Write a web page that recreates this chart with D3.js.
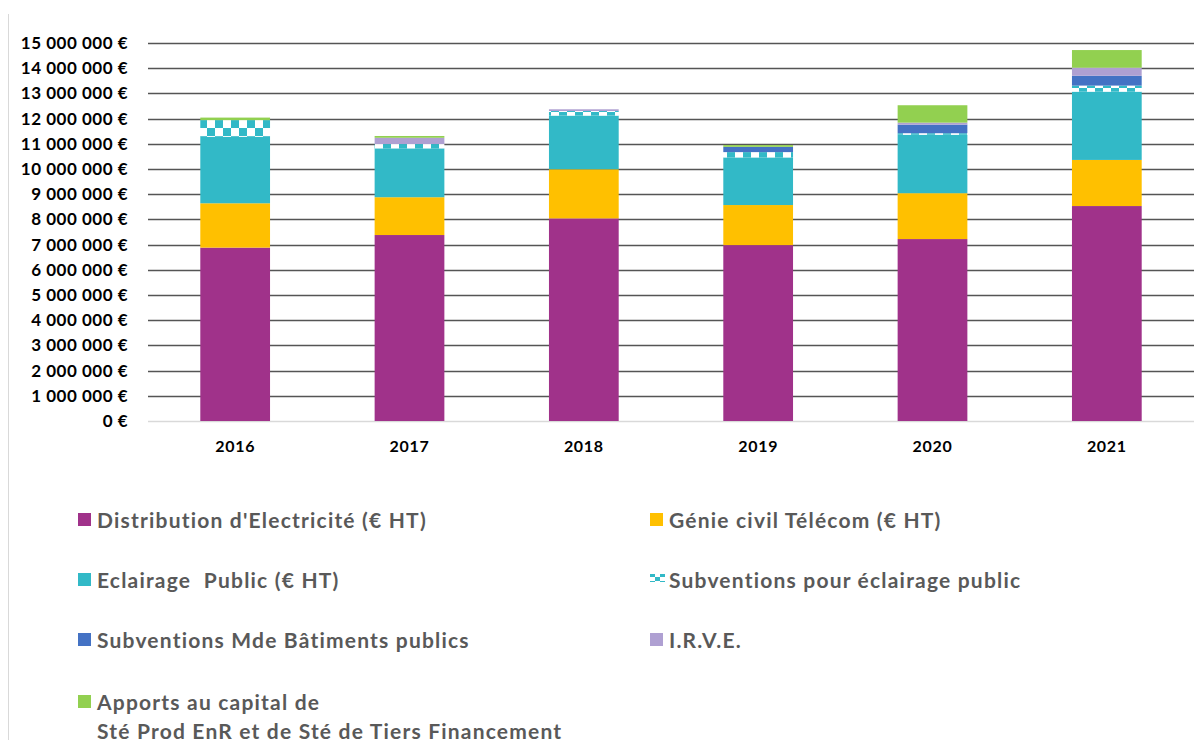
<!DOCTYPE html>
<html>
<head>
<meta charset="utf-8">
<script src="https://cdn.jsdelivr.net/npm/d3@7"></script>
<style>
  body { margin: 0; background: #fff; }
  svg text { font-family: "Lato", "Open Sans", sans-serif; font-weight: bold; }
</style>
</head>
<body>
<div id="chart"></div>
<script>
// data (euros)
var years = ["2016", "2017", "2018", "2019", "2020", "2021"];
var distribution  = [6880000, 7380000, 8040000, 6980000, 7220000, 8530000];
var genieCivil    = [1760000, 1500000, 1950000, 1590000, 1820000, 1830000];
var eclairage     = [2640000, 1940000, 2130000, 1890000, 2320000, 2710000];
var subvEclairage = [660000, 170000, 180000, 210000, 60000, 240000];
var subvMde       = [0, 0, 0, 210000, 340000, 390000];
var irve          = [0, 250000, 70000, 0, 80000, 320000];
var apports       = [100000, 70000, 0, 70000, 690000, 700000];
var tickValues = [0, 1000000, 2000000, 3000000, 4000000, 5000000, 6000000, 7000000,
  8000000, 9000000, 10000000, 11000000, 12000000, 13000000, 14000000, 15000000];

var seriesNames = ["Distribution d'Electricité (€ HT)", "Génie civil Télécom (€ HT)",
  "Eclairage  Public (€ HT)", "Subventions pour éclairage public",
  "Subventions Mde Bâtiments publics", "I.R.V.E.", "Apports au capital de|Sté Prod EnR et de Sté de Tiers Financement"];
var seriesValues = [distribution, genieCivil, eclairage, subvEclairage, subvMde, irve, apports];
var colors = ["#A0328A", "#FFC000", "#32B9C7", "url(#checker)", "#4472C4", "#AFA0D2", "#92D050"];
var legendColors = ["#A0328A", "#FFC000", "#32B9C7", "url(#checkerSmall)", "#4472C4", "#AFA0D2", "#92D050"];

var width = 1202, height = 740;
var svg = d3.select("#chart").append("svg")
  .attr("width", width).attr("height", height);

// patterns for the subventions series
var defs = svg.append("defs");
var pat = defs.append("pattern").attr("id", "checker")
  .attr("patternUnits", "userSpaceOnUse")
  .attr("width", 16).attr("height", 16)
  .attr("x", 199).attr("y", 0);
pat.append("rect").attr("width", 16).attr("height", 16).attr("fill", "#fff");
pat.append("rect").attr("x", 8).attr("y", 0).attr("width", 8).attr("height", 8).attr("fill", "#32B9C7");
pat.append("rect").attr("x", 0).attr("y", 8).attr("width", 8).attr("height", 8).attr("fill", "#32B9C7");
var pat2 = defs.append("pattern").attr("id", "checkerSmall")
  .attr("patternUnits", "userSpaceOnUse")
  .attr("width", 10).attr("height", 8)
  .attr("x", 650).attr("y", 0);
pat2.append("rect").attr("width", 10).attr("height", 8).attr("fill", "#fff");
pat2.append("rect").attr("x", 0).attr("y", 0).attr("width", 5).attr("height", 4).attr("fill", "#32B9C7");
pat2.append("rect").attr("x", 5).attr("y", 4).attr("width", 5).attr("height", 4).attr("fill", "#32B9C7");

// chart area border on the left
svg.append("line")
  .attr("x1", 8.5).attr("x2", 8.5).attr("y1", 14).attr("y2", height)
  .attr("stroke", "#d9d9d9").attr("stroke-width", 1);

var x = d3.scaleBand().domain(years).range([148, 1194])
  .paddingInner(0.6).paddingOuter(0.3);
var y = d3.scaleLinear().domain([0, 15000000]).range([421, 43]);

// gridlines
svg.append("g").selectAll("line")
  .data(tickValues)
  .enter().append("line")
    .attr("x1", 148).attr("x2", 1194)
    .attr("y1", function(d){ return Math.round(y(d)) + 0.5; })
    .attr("y2", function(d){ return Math.round(y(d)) + 0.5; })
    .attr("stroke", function(d){ return d === 0 ? "#d9d9d9" : "#555555"; })
    .attr("stroke-width", 1.4);

// y labels
var fmt = function(d){ return d3.format(",")(d).replace(/,/g, " ") + " €"; };
var yAxis = d3.axisLeft(y).tickValues(tickValues).tickFormat(fmt).tickSize(0).tickPadding(0);
var ya = svg.append("g").attr("transform", "translate(128,0)").call(yAxis);
ya.select(".domain").remove();
ya.selectAll("text")
  .attr("fill", "#000").attr("font-size", 17).attr("letter-spacing", 0.5)
  .style("font-family", "Lato").style("font-weight", "bold");

// x labels
var xAxis = d3.axisBottom(x).tickSize(0).tickPadding(0);
var xa = svg.append("g").attr("transform", "translate(0,441)").call(xAxis);
xa.select(".domain").remove();
xa.selectAll("text")
  .attr("fill", "#000").attr("font-size", 16).attr("letter-spacing", 0.7).attr("dy", "0.71em")
  .style("font-family", "Lato").style("font-weight", "bold");

// stacked bars
var keys = d3.range(seriesNames.length);
var table = years.map(function(yr, i){
  var row = { year: yr };
  keys.forEach(function(k){ row[k] = seriesValues[k][i]; });
  return row;
});
var stack = d3.stack().keys(keys)(table);

svg.append("g").selectAll("g")
  .data(stack)
  .enter().append("g")
    .attr("fill", function(d){ return colors[d.key]; })
  .selectAll("rect")
  .data(function(d){ return d; })
  .enter().append("rect")
    .attr("x", function(d){ return x(d.data.year); })
    .attr("width", x.bandwidth())
    .attr("y", function(d){ return y(d[1]); })
    .attr("height", function(d){ return y(d[0]) - y(d[1]); });

// legend
var legendPos = [[78, 521], [650, 521], [78, 581], [650, 581], [78, 641], [650, 641], [78, 703]];
var lg = svg.append("g").selectAll("g")
  .data(keys)
  .enter().append("g")
    .attr("transform", function(k){ return "translate(" + legendPos[k][0] + "," + legendPos[k][1] + ")"; });
lg.append("rect")
  .attr("x", 0).attr("y", function(k){ return k === 3 ? -7 : -8; })
  .attr("width", function(k){ return k === 3 ? 15 : 13; })
  .attr("height", function(k){ return k === 3 ? 8 : 13; })
  .attr("fill", function(k){ return legendColors[k]; });
lg.each(function(k){
  var lines = seriesNames[k].split("|");
  var t = d3.select(this).append("text")
    .attr("x", 19).attr("y", 0)
    .attr("fill", "#595959").attr("font-size", 21).attr("letter-spacing", 1.2)
    .style("white-space", "pre")
    .style("font-family", "Lato").style("font-weight", "bold");
  lines.forEach(function(l, i){
    t.append("tspan").attr("x", 19).attr("dy", i === 0 ? "0.35em" : 29).text(l);
  });
});
</script>
</body>
</html>
